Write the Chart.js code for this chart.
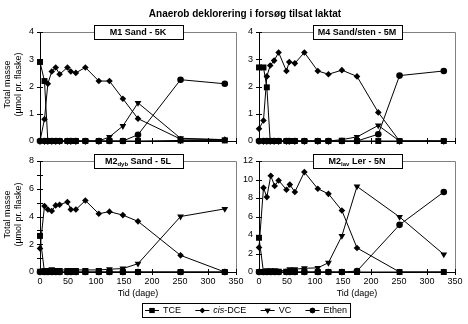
<!DOCTYPE html>
<html>
<head>
<meta charset="utf-8">
<script src="https://cdn.jsdelivr.net/npm/chart.js@4.4.1/dist/chart.umd.min.js"></script>
<style>
  html, body { margin: 0; padding: 0; background: #fff; }
  #wrap { position: relative; width: 468px; height: 324px; }
  #wrap canvas { position: absolute; left: 0; top: 0; }
</style>
</head>
<body>
<div id="wrap">
  <canvas id="p1" width="468" height="324"></canvas>
  <canvas id="p2" width="468" height="324"></canvas>
  <canvas id="p3" width="468" height="324"></canvas>
  <canvas id="p4" width="468" height="324"></canvas>
</div>
<script>
// sampling days (M4 has one extra sample around day 213)
const days   = [0, 8, 14, 21, 28, 35, 49, 55, 64, 81, 105, 124, 148, 175, 251, 330];
const daysM4 = [0, 8, 14, 20, 27, 35, 49, 54, 64, 81, 105, 124, 148, 175, 213, 251, 330];

const xTicks = [0, 50, 100, 150, 200, 250, 300, 350];
const seriesNames = ['TCE', 'cis-DCE', 'VC', 'Ethen'];

// M1 Sand - 5K
const m1TCE   = [2.9, 2.2, 0, 0, 0, 0, 0, 0, 0, 0, 0, 0, 0, 0, 0.02, 0.02];
const m1DCE   = [0, 0.8, 2.1, 2.55, 2.7, 2.45, 2.7, 2.55, 2.5, 2.7, 2.2, 2.2, 1.55, 0.82, 0.07, 0.05];
const m1VC    = [0, 0, 0, 0, 0, 0, 0, 0, 0, 0, 0, 0.15, 0.55, 1.4, 0.1, 0.05];
const m1Ethen = [0, 0, 0, 0, 0, 0, 0, 0, 0, 0, 0, 0, 0, 0.23, 2.25, 2.1];

// M4 Sand/sten - 5M
const m4TCE   = [2.7, 2.7, 1.97, 0, 0, 0, 0, 0, 0, 0, 0, 0, 0, 0, 0, 0, 0];
const m4DCE   = [0.45, 0.75, 2.37, 2.77, 2.95, 3.25, 2.57, 2.9, 2.85, 3.25, 2.57, 2.45, 2.6, 2.37, 1.05, 0, 0];
const m4VC    = [0, 0, 0, 0, 0, 0, 0, 0, 0, 0, 0, 0, 0.05, 0.15, 0.57, 0, 0];
const m4Ethen = [0, 0, 0, 0, 0, 0, 0, 0, 0, 0, 0, 0, 0, 0, 0.25, 2.4, 2.57];

// M2dyb Sand - 5L
const m2dTCE   = [2.6, 0, 0, 0, 0, 0, 0, 0, 0, 0, 0, 0, 0, 0, 0, 0];
const m2dDCE   = [1.7, 4.75, 4.5, 4.4, 4.8, 4.85, 5.05, 4.5, 4.5, 5.15, 4.2, 4.35, 4.1, 3.65, 1.2, 0];
const m2dVC    = [0.1, 0.15, 0.15, 0.2, 0.15, 0.15, 0.15, 0.15, 0.15, 0.15, 0.15, 0.2, 0.25, 0.6, 4.0, 4.55];
const m2dEthen = [0, 0, 0, 0, 0, 0, 0, 0, 0, 0, 0, 0, 0, 0, 0, 0];

// M2lav Ler - 5N
const m2lTCE   = [3.7, 0, 0, 0, 0, 0, 0, 0, 0, 0, 0, 0, 0, 0, 0, 0];
const m2lDCE   = [2.65, 9.1, 8.1, 10.4, 9.3, 9.9, 8.9, 9.45, 8.65, 10.8, 9.0, 8.45, 6.65, 2.6, 0, 0];
const m2lVC    = [0.1, 0.1, 0.2, 0.2, 0.2, 0.15, 0.15, 0.3, 0.3, 0.4, 0.45, 1.0, 3.9, 9.25, 5.95, 1.9];
const m2lEthen = [0, 0, 0, 0, 0, 0, 0, 0, 0, 0, 0, 0, 0, 0.1, 5.1, 8.65];

const FONT = "'Liberation Sans', Arial, sans-serif";
Chart.defaults.font.family = FONT;
Chart.defaults.font.size = 9;
Chart.defaults.color = '#000';

const markers = [
  { style: 'rect', radius: 4.2, rotation: 0 },
  { style: 'rectRot', radius: 3.3, rotation: 0 },
  { style: 'triangle', radius: 3.9, rotation: 180 },
  { style: 'circle', radius: 3.3, rotation: 0 }
];

function drawParts(ctx, parts, cx, cy) {
  const main = 'bold 9px ' + FONT, sub = 'bold 6px ' + FONT;
  let w = 0;
  parts.forEach(p => { ctx.font = p.sub ? sub : main; w += ctx.measureText(p.t).width; });
  let x = cx - w / 2;
  ctx.textBaseline = 'middle';
  ctx.textAlign = 'left';
  parts.forEach(p => {
    ctx.font = p.sub ? sub : main;
    ctx.fillText(p.t, x, p.sub ? cy + 2.5 : cy);
    x += ctx.measureText(p.t).width;
  });
}

// frame, crossing tick marks, boxed panel title and y-axis title
const panelDecor = {
  id: 'panelDecor',
  afterDraw(chart, args, opts) {
    const { ctx, chartArea: a, scales: { x, y } } = chart;
    ctx.save();
    ctx.lineWidth = 1;
    ctx.strokeStyle = '#808080';
    ctx.beginPath();
    ctx.moveTo(a.left, a.top + 0.5);
    ctx.lineTo(a.right + 0.5, a.top + 0.5);
    ctx.lineTo(a.right + 0.5, a.bottom);
    ctx.stroke();

    ctx.strokeStyle = '#000';
    ctx.beginPath();
    x.ticks.forEach(t => {
      if (t.value === 0) return;
      const px = Math.round(x.getPixelForValue(t.value)) + 0.5;
      ctx.moveTo(px, a.bottom - 3);
      ctx.lineTo(px, a.bottom + 3);
    });
    y.ticks.forEach(t => {
      if (t.value === 0) return;
      const py = Math.round(y.getPixelForValue(t.value)) + 0.5;
      ctx.moveTo(a.left - 3, py);
      ctx.lineTo(a.left + 3, py);
    });
    ctx.stroke();

    const cx = (a.left + a.right) / 2, bw = 89, bh = 14;
    const bx = Math.round(cx - bw / 2) + 0.5, by = Math.round(a.top - bh / 2) + 0.5;
    ctx.fillStyle = '#fff';
    ctx.fillRect(bx, by, bw, bh);
    ctx.strokeRect(bx, by, bw, bh);
    ctx.fillStyle = '#000';
    drawParts(ctx, opts.title, cx, a.top + 0.5);

    if (opts.yTitle) {
      const cy = (a.top + a.bottom) / 2 - 2;
      ctx.font = '9px ' + FONT;
      ctx.textAlign = 'center';
      ctx.textBaseline = 'middle';
      [['Total masse', 8], ['(µmol pr. flaske)', 19]].forEach(([s, tx]) => {
        ctx.save();
        ctx.translate(tx, cy);
        ctx.rotate(-Math.PI / 2);
        ctx.fillText(s, 0, 0);
        ctx.restore();
      });
    }
    ctx.restore();
  }
};

// figure title and the shared legend
const figureText = {
  id: 'figureText',
  afterDraw(chart) {
    const ctx = chart.ctx;
    ctx.save();
    ctx.fillStyle = '#000';
    ctx.font = 'bold 10px ' + FONT;
    ctx.textAlign = 'center';
    ctx.textBaseline = 'middle';
    ctx.fillText('Anaerob deklorering i forsøg tilsat laktat', 245, 14);

    const box = { left: 142, top: 303, right: 350, bottom: 317 };
    ctx.lineWidth = 1;
    ctx.strokeStyle = '#000';
    ctx.strokeRect(box.left + 0.5, box.top + 0.5, box.right - box.left, box.bottom - box.top);

    const font = '9px ' + FONT, italic = 'italic 9px ' + FONT;
    const labels = [
      [{ t: 'TCE' }],
      [{ t: 'cis', it: true }, { t: '-DCE' }],
      [{ t: 'VC' }],
      [{ t: 'Ethen' }]
    ];
    const symW = 14, gap = 4;
    const widths = labels.map(parts => parts.reduce((s, p) => {
      ctx.font = p.it ? italic : font;
      return s + ctx.measureText(p.t).width;
    }, 0));
    const used = widths.reduce((s, w) => s + w + symW + gap, 0);
    const spacing = (box.right - box.left - 6 - used) / (labels.length - 1);
    const cy = (box.top + box.bottom) / 2 + 0.5;
    let x = box.left + 3;
    labels.forEach((parts, i) => {
      ctx.beginPath();
      ctx.moveTo(x, cy);
      ctx.lineTo(x + symW, cy);
      ctx.stroke();
      const m = markers[i];
      Chart.helpers.drawPoint(ctx, { pointStyle: m.style, radius: m.radius - 0.6, rotation: m.rotation, borderWidth: 0 }, x + symW / 2, cy);
      ctx.fill();
      x += symW + gap;
      ctx.textAlign = 'left';
      parts.forEach(p => {
        ctx.font = p.it ? italic : font;
        ctx.fillText(p.t, x, cy);
        x += ctx.measureText(p.t).width;
      });
      x += spacing;
    });
    ctx.restore();
  }
};

const panels = [
  { id: 'p1', title: [{ t: 'M1 Sand - 5K' }], xs: days, data: [m1TCE, m1DCE, m1VC, m1Ethen],
    yMax: 4, yStep: 0.5, yLabelStep: 1, area: [40, 32, 236, 141], bottomRow: false, yTitle: true },
  { id: 'p2', title: [{ t: 'M4 Sand/sten - 5M' }], xs: daysM4, data: [m4TCE, m4DCE, m4VC, m4Ethen],
    yMax: 4, yStep: 0.5, yLabelStep: 1, area: [259, 32, 455, 141], bottomRow: false, yTitle: false },
  { id: 'p3', title: [{ t: 'M2' }, { t: 'dyb', sub: true }, { t: ' Sand - 5L' }], xs: days, data: [m2dTCE, m2dDCE, m2dVC, m2dEthen],
    yMax: 8, yStep: 1, yLabelStep: 2, area: [40, 161, 236, 272], bottomRow: true, yTitle: true },
  { id: 'p4', title: [{ t: 'M2' }, { t: 'lav', sub: true }, { t: ' Ler - 5N' }], xs: days, data: [m2lTCE, m2lDCE, m2lVC, m2lEthen],
    yMax: 12, yStep: 2, yLabelStep: 2, area: [259, 161, 455, 272], bottomRow: true, yTitle: false }
];

panels.forEach((p, idx) => {
  const [left, top, right, bottom] = p.area;
  const yW = p.yTitle ? 40 : 24;
  const xH = p.bottomRow ? 27 : 4;
  new Chart(document.getElementById(p.id), {
    type: 'line',
    data: {
      datasets: p.data.map((vals, i) => ({
        label: seriesNames[i],
        data: p.xs.map((d, j) => ({ x: d, y: vals[j] })),
        borderColor: '#000',
        backgroundColor: '#000',
        borderWidth: 1,
        pointStyle: markers[i].style,
        pointRadius: markers[i].radius,
        pointRotation: markers[i].rotation,
        pointBorderWidth: 0,
        pointBackgroundColor: '#000',
        tension: 0,
        clip: false
      }))
    },
    options: {
      responsive: false,
      animation: false,
      events: [],
      layout: { padding: { left: left - yW, top: top, right: 468 - right, bottom: 324 - bottom - xH } },
      plugins: {
        legend: { display: false },
        tooltip: { enabled: false },
        panelDecor: { title: p.title, yTitle: p.yTitle }
      },
      scales: {
        x: {
          type: 'linear', min: 0, max: 350,
          afterBuildTicks: s => { s.ticks = xTicks.map(v => ({ value: v })); },
          afterFit: s => { s.height = xH; },
          grid: { display: false, drawTicks: false },
          border: { display: true, color: '#000', width: 1 },
          ticks: { display: p.bottomRow, padding: 4, maxRotation: 0, autoSkip: false, font: { size: 9 } },
          title: { display: p.bottomRow, text: 'Tid (dage)', padding: 0, font: { size: 9 } }
        },
        y: {
          min: 0, max: p.yMax,
          afterFit: s => { s.width = yW; },
          grid: { display: false, drawTicks: false },
          border: { display: true, color: '#000', width: 1 },
          ticks: {
            stepSize: p.yStep, padding: 6, font: { size: 9 },
            callback: v => (Math.abs(v / p.yLabelStep - Math.round(v / p.yLabelStep)) < 1e-6 ? v : '')
          }
        }
      }
    },
    plugins: idx === 0 ? [panelDecor, figureText] : [panelDecor]
  });
});
</script>
</body>
</html>
